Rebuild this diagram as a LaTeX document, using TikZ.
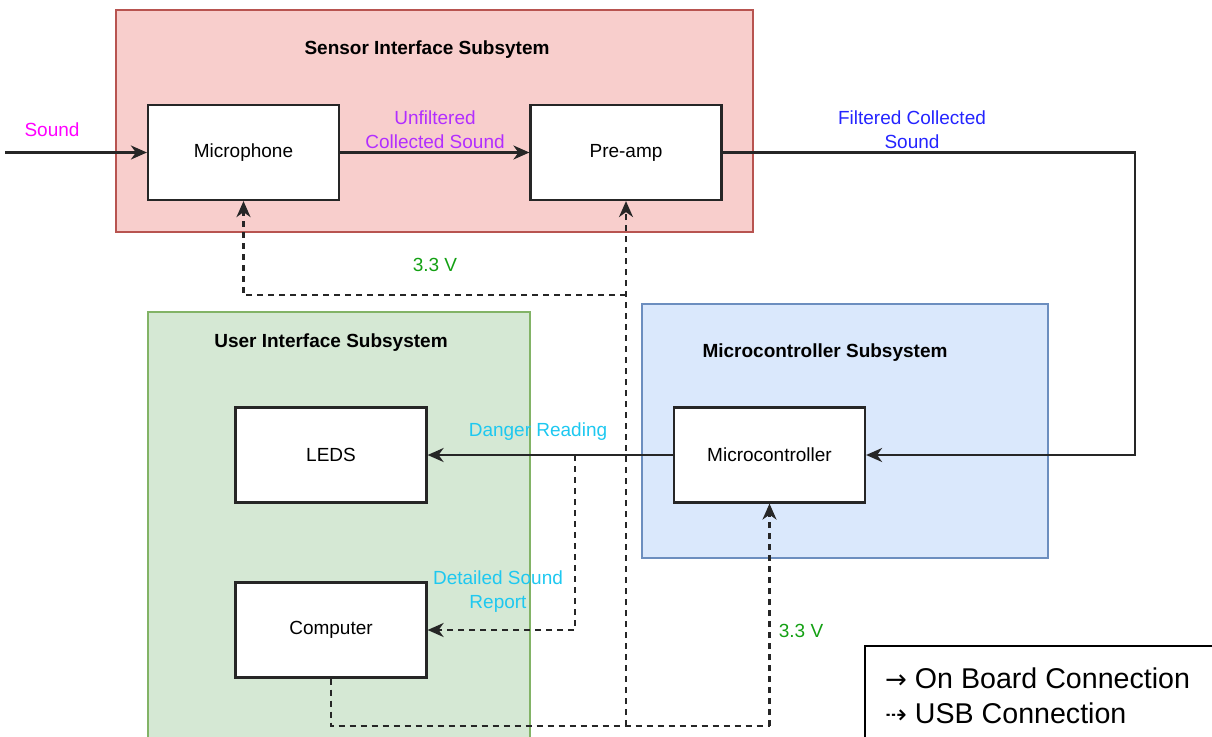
\documentclass[tikz,border=0pt]{standalone}
\usepackage{fontspec}
\setmainfont{Liberation Sans}
\newfontfamily\arrowfont{DejaVu Sans}
\usetikzlibrary{arrows.meta}
\definecolor{redfill}{HTML}{F8CECC}
\definecolor{redline}{HTML}{B85450}
\definecolor{greenfill}{HTML}{D5E8D4}
\definecolor{greenline}{HTML}{82B366}
\definecolor{bluefill}{HTML}{DAE8FC}
\definecolor{blueline}{HTML}{6C8EBF}
\definecolor{cmag}{HTML}{FF00FF}
\definecolor{cpurp}{HTML}{B22EFF}
\definecolor{cblue}{HTML}{2424FF}
\definecolor{ccyan}{HTML}{1EC8F0}
\definecolor{cgreen}{HTML}{13A013}
\tikzset{
  container/.style={line width=1.3pt},
  block/.style={draw=black!85, line width=2.2pt, fill=white, minimum width=191pt, minimum height=95pt, inner sep=0pt, font=\fontsize{19pt}{23pt}\selectfont},
  title/.style={inner sep=0pt, font=\fontsize{19pt}{23pt}\selectfont\bfseries},
  lab/.style={inner sep=0pt, align=center, font=\fontsize{19pt}{24pt}\selectfont},
  arr/.style={line width=2.2pt, draw=black!85, -{Stealth[length=16pt,width=14pt,inset=5pt]}},
  darr/.style={arr, dash pattern=on 6pt off 5pt},
  dline/.style={line width=2.2pt, draw=black!85, dash pattern=on 6pt off 5pt},
}
\begin{document}
\begin{tikzpicture}[x=1pt,y=-1pt]
\useasboundingbox (0,0) rectangle (1212,736);
\clip (0,0) rectangle (1212,736);
% containers
\fill[redfill] (116,10) rectangle (753,232);
\draw[redline,container] (116,10) rectangle (753,232);
\fill[greenfill] (148,312) rectangle (530,760);
\draw[greenline,container] (148,760) -- (148,312) -- (530,312) -- (530,760);
\fill[bluefill] (642,304) rectangle (1048,558);
\draw[blueline,container] (642,304) rectangle (1048,558);
\node[title] (t1) at (427,50) {Sensor Interface Subsytem};
\node[title] (t2) at (331,343) {User Interface Subsystem};
\node[title] (t3) at (825,353) {Microcontroller Subsystem};
% blocks
\node[block] (mic) at (243.5,152.5) {Microphone};
\node[block] (pre) at (626,152.5) {Pre-amp};
\node[block] (leds) at (331,455) {LEDS};
\node[block] (comp) at (331,630) {Computer};
\node[block] (mcu) at (769.5,455) {Microcontroller};
% coordinates
\coordinate (soundin) at (5,152.5);
\coordinate (rightx) at (1135,0);
\coordinate (pmid) at (626,295);
\coordinate (pbot) at (626,726);
\coordinate (mbot) at (769.5,726);
\coordinate (dr) at (575,455);
% solid connectors
\draw[arr] (soundin) -- (mic.west);
\draw[arr] (mic.east) -- (pre.west);
\draw[arr] (pre.east) -- (pre.east -| rightx) |- (mcu.east);
\draw[arr] (mcu.west) -- (leds.east);
% dashed connectors
\draw[darr] (pbot) -- (pre.south);
\draw[darr] (pmid) -| (mic.south);
\draw[dline] (comp.south) |- (mbot);
\draw[darr] (mbot) -- (mcu.south);
\draw[darr] (dr) |- (comp.east);
% labels
\node[lab, text=cmag] (l1) at (52,130) {Sound};
\node[lab, text=cpurp] (l2) at (435,130) {Unfiltered\\Collected Sound};
\node[lab, text=cblue] (l3) at (912,130) {Filtered Collected\\Sound};
\node[lab, text=cgreen] (l4) at (435,265) {3.3 V};
\node[lab, text=ccyan] (l5) at (538,432) {Danger Reading};
\node[lab, text=ccyan] (l6) at (498,592) {Detailed Sound\\Report};
\node[lab, text=cgreen] (l7) at (801,631) {3.3 V};
% legend
\draw[black, line width=1.6pt, fill=white] (865,646) rectangle (1230,760);
\node[inner sep=0pt, anchor=west, font=\fontsize{28.6pt}{34pt}\selectfont] (lg1) at (885,678) {{\arrowfont\fontsize{26pt}{26pt}\selectfont →}\hspace{8pt}On Board Connection};
\node[inner sep=0pt, anchor=west, font=\fontsize{28.6pt}{34pt}\selectfont] (lg2) at (885,713) {{\arrowfont\fontsize{26pt}{26pt}\selectfont ⇢}\hspace{8pt}USB Connection};
\end{tikzpicture}
\end{document}
